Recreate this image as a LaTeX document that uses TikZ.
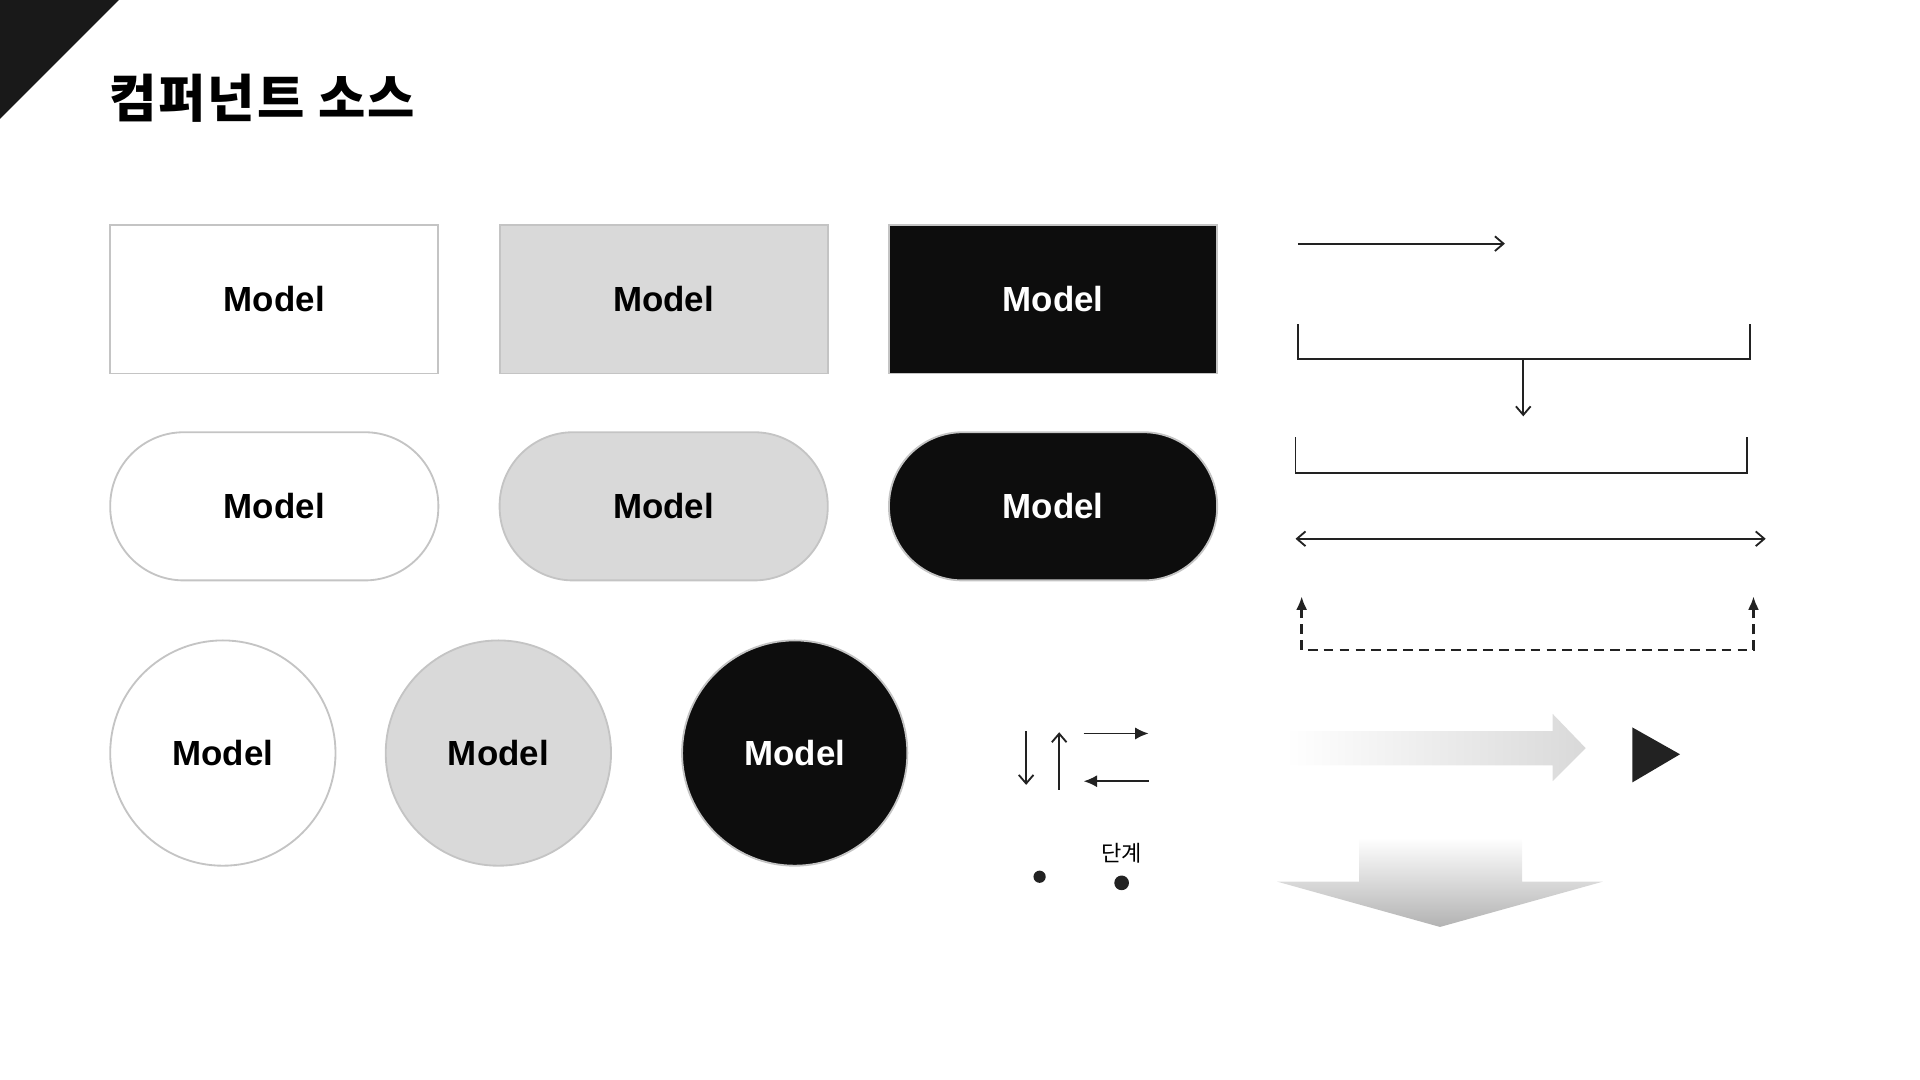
\documentclass[tikz,border=0pt]{standalone}
\usepackage{fontspec}
\setmainfont{Liberation Sans}
\newfontfamily\krfont{Noto Sans CJK KR}
\usetikzlibrary{arrows.meta,shapes,positioning,shadings}
\definecolor{edgegray}{HTML}{C4C4C4}
\definecolor{boxgray}{HTML}{D9D9D9}
\definecolor{ink}{HTML}{0D0D0D}
\definecolor{darkink}{HTML}{222222}
\tikzset{
    raw model/.style={rectangle, draw=edgegray, line width=1.5pt, minimum width=268pt, minimum height=121pt, inner sep=0pt, font=\fontsize{28.5}{30}\selectfont\bfseries, align=center},
    model white/.style={raw model, fill=white, text=black},
    model gray/.style={raw model, fill=boxgray, text=black},
    model black/.style={raw model, fill=ink, text=white},
    pill/.style={rounded corners=60pt},
    disc/.style={circle, minimum size=184pt},
    link/.style={draw=darkink, line width=1.5pt},
    dash link/.style={draw=darkink, line width=2pt, dash pattern=on 8pt off 5pt},
    dot/.style={circle, fill=darkink, inner sep=0pt},
    step label/.style={font=\krfont\fontsize{18}{20}\selectfont, inner sep=0pt}
}
\begin{document}
\begin{tikzpicture}[x=1pt, y=-1pt,
	open/.style={-{Straight Barb[length=7pt, width=12pt]}},
	solid tip/.style={-{Latex[length=11pt, width=10pt]}}]
	\useasboundingbox (0,0) rectangle (1568,882);
	\fill[black!90] (0,0) -- (97,0) -- (0,97) -- cycle;
	\node[anchor=west, inner sep=0pt, font=\krfont\bfseries\fontsize{42}{46}\selectfont] (title) at (89,80) {\addfontfeature{LetterSpace=4}컴퍼넌트 소스};
	% boxes
	\node[model white] (rect1) at (224,244.5) {Model};
	\node[model gray, right=48.5pt of rect1] (rect2) {Model};
	\node[model black, right=48.5pt of rect2] (rect3) {Model};
	\node[model white, pill, below=46.5pt of rect1] (pill1) {Model};
	\node[model gray, pill, below=46.5pt of rect2] (pill2) {Model};
	\node[model black, pill, below=46.5pt of rect3] (pill3) {Model};
	\node[model white, disc] (disc1) at (182,615) {Model};
	\node[model gray, disc] (disc2) at (407,615) {Model};
	\node[model black, disc] (disc3) at (649,615) {Model};
	% connectors
	\coordinate (one a) at (1060,199);
	\coordinate (one b) at (1229,199);
	\draw[link, open] (one a) -- (one b);
	\coordinate (brace1 l) at (1060,265);
	\coordinate (brace1 m) at (1244,293);
	\coordinate (brace1 r) at (1429,265);
	\coordinate (brace1 t) at (1244,340);
	\draw[link] (brace1 l) |- (brace1 m) -| (brace1 r);
	\draw[link, open] (brace1 m) -- (brace1 t);
	\coordinate (brace2 l) at (1058,357);
	\coordinate (brace2 r) at (1427,357);
	\draw[link] (brace2 l) -- ++(0,29) -| (brace2 r);
	\coordinate (both l) at (1058,440);
	\coordinate (both r) at (1442,440);
	\draw[link, {Straight Barb[length=7pt, width=12pt]}-{Straight Barb[length=7pt, width=12pt]}] (both l) -- (both r);
	\coordinate (back l) at (1063,487);
	\coordinate (back r) at (1432,487);
	\draw[dash link, {Latex[length=11pt, width=9pt]}-{Latex[length=11pt, width=9pt]}] (back l) -- ++(0,44) -| (back r);
	% small arrows
	\coordinate (down a) at (838,597);
	\coordinate (down b) at (838,641);
	\coordinate (up a) at (865,645);
	\coordinate (up b) at (865,598);
	\coordinate (right a) at (885,599);
	\coordinate (right b) at (938,599);
	\coordinate (left a) at (938,638);
	\coordinate (left b) at (885,638);
	\draw[link, open] (down a) -- (down b);
	\draw[link, open] (up a) -- (up b);
	\draw[link, solid tip] (right a) -- (right b);
	\draw[link, solid tip] (left a) -- (left b);
	\node[dot, minimum size=10pt] (dot1) at (849,716) {};
	\node[dot, minimum size=12pt] (dot2) at (916,721) {};
	\node[step label] (step) at (916,697) {단계};
	% big arrows
	\shade[left color=white, right color=boxgray] (1050,597) -- (1268,597) -- (1268,583) -- (1295,611) -- (1268,638) -- (1268,625) -- (1050,625) -- cycle;
	\fill[darkink] (1333,594) -- (1372,616) -- (1333,639) -- cycle;
	\shade[top color=white, bottom color=black!30] (1110,684) -- (1243,684) -- (1243,720) -- (1309,720) -- (1176,757) -- (1043,720) -- (1110,720) -- cycle;
\end{tikzpicture}
\end{document}
